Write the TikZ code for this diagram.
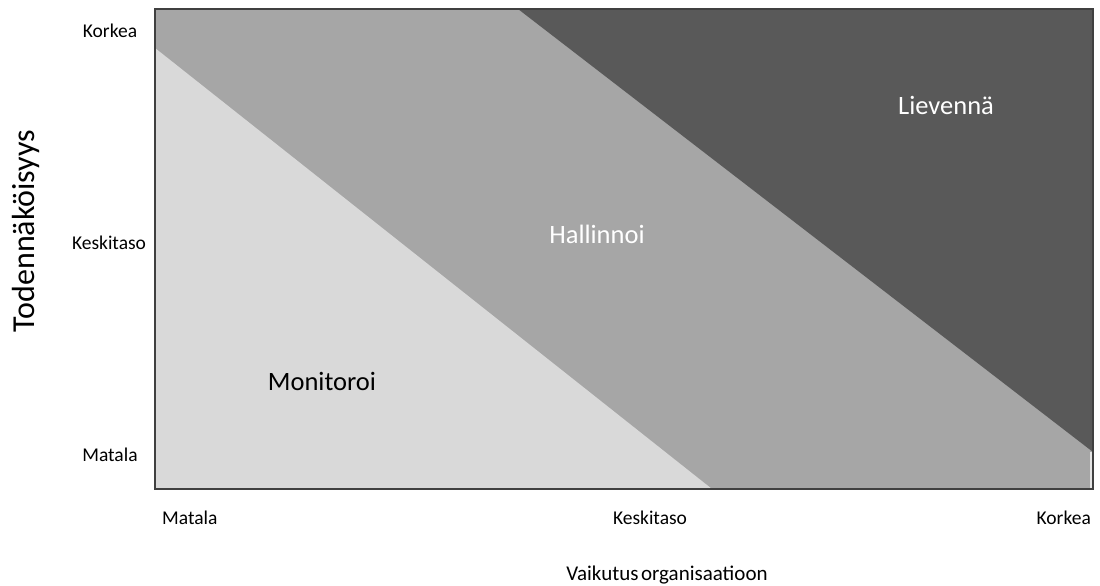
\documentclass[tikz,border=0pt]{standalone}
\usepackage{fontspec}
\setmainfont{Carlito}
\definecolor{zonelow}{HTML}{D9D9D9}
\definecolor{zonemid}{HTML}{A6A6A6}
\definecolor{zonehigh}{HTML}{595959}
\definecolor{frameline}{HTML}{404040}
\tikzset{
  ticklabel/.style={font=\fontsize{19.5}{21}\selectfont, text=black, inner sep=0pt},
  zonelabel/.style={font=\fontsize{26.5}{29}\selectfont, inner sep=0pt},
  axistitle/.style={inner sep=0pt, text=black},
}
\begin{document}
\begin{tikzpicture}[x=1pt,y=-1pt]
\useasboundingbox (0,0) rectangle (1100,586);
% plot corners
\coordinate (tl) at (155,9);
\coordinate (tr) at (1093,9);
\coordinate (bl) at (155,489);
\coordinate (br) at (1093,489);
% zones
\fill[zonemid] (tl) rectangle (br);
\fill[zonelow] (155,48) -- (bl) -- (712,489) -- cycle;
\fill[zonehigh] (518,9) -- (tr) -- (1093,452) -- cycle;
\fill[zonelow!70!white] (1089.5,452) rectangle (1092,488);
\draw[frameline, line width=1.8pt] (tl) rectangle (br);
% zone labels
\node[zonelabel, text=white] (lievenna) at (946,105) {Lievennä};
\node[zonelabel, text=white] (hallinnoi) at (597,234) {Hallinnoi};
\node[zonelabel, text=black] (monitoroi) at (322,381) {Monitoroi};
% y ticks
\node[ticklabel] (yhigh) at (110,31) {Korkea};
\node[ticklabel] (ymid) at (109,243) {Keskitaso};
\node[ticklabel] (ylow) at (110,455) {Matala};
% x ticks
\node[ticklabel, anchor=west] (xlow) at (162,518) {Matala};
\node[ticklabel] (xmid) at (650,518) {Keskitaso};
\node[ticklabel, anchor=east] (xhigh) at (1091,518) {Korkea};
% axis titles
\node[axistitle, font=\fontsize{21}{24}\selectfont] (xtitle) at (667,575) {Vaikutus\hspace{0.12em}organisaatioon};
\node[axistitle, font=\fontsize{32}{35}\selectfont, rotate=90] (ytitle) at (26,231) {Todennäköisyys};
\end{tikzpicture}
\end{document}
